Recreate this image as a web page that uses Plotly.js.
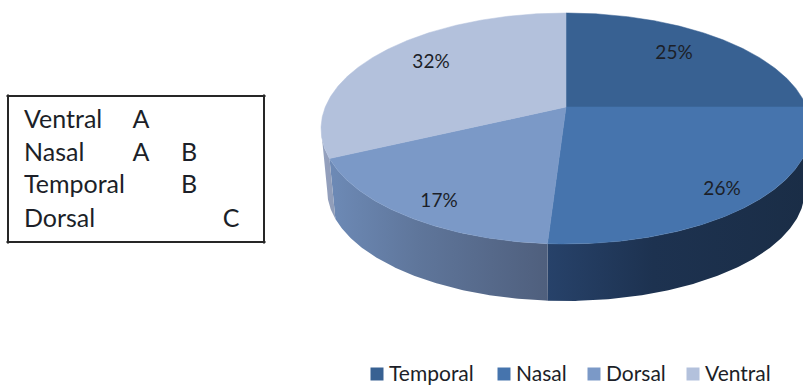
<!DOCTYPE html>
<html>
<head>
<meta charset="utf-8">
<script src="https://cdn.plot.ly/plotly-3.0.1.min.js"></script>
<style>html,body{margin:0;padding:0;background:#fff}#chart{width:803px;height:385px}</style>
</head>
<body>
<div id="chart"></div>
<script>
// Share of each region, clockwise from twelve o'clock
const regions = ["Temporal", "Nasal", "Dorsal", "Ventral"];
const shares = [25, 26, 17, 32];
const topColors = ["#386192", "#4674ad", "#7b99c7", "#b3c1dc"];
const wallLeft = ["#2a4a70", "#27426a", "#6d8ab6", "#97a5c0"];
const wallMid = ["#2a4a70", "#1d3250", "#5f769b", "#939fbc"];
const wallRight = ["#2a4a70", "#1a2d46", "#4f5f7d", "#8f9db8"];
const labelX = [674, 722, 439, 431];
const labelY = [54, 190, 202, 63];

// Post-hoc grouping table
const tableRows = ["Ventral", "Nasal", "Temporal", "Dorsal"];
const groupA = ["A", "A", "", ""];
const groupB = ["", "B", "B", ""];
const groupC = ["", "", "", "C"];
const tableRowY = [122, 155, 187, 221];

// Projection of the tilted disc onto the page
const cx = 566, cy = 107, halfW = 240.7, halfH = 111.5, tilt = 0.186;
const drop = 62.5, lowerX = 0.975, lowerY = 0.96;
const rad = d => d * Math.PI / 180;
function rim(deg, lower) {
  const u = Math.sin(rad(deg)), v = Math.cos(rad(deg));
  const s = 1 / (1 + tilt * v);
  const x = halfW * u * s, y = -halfH * v * s;
  return lower ? [cx + lowerX * x, cy + drop + lowerY * y] : [cx + x, cy + y];
}
function arc(from, to, lower) {
  const n = Math.max(2, Math.ceil(Math.abs(to - from) * 2));
  const pts = [];
  for (let i = 0; i <= n; i++) pts.push(rim(from + (to - from) * i / n, lower));
  return pts;
}

const traces = [];
const sideRight = 100.7, sideLeft = 259.3;
let acc = 0;
const spans = shares.map(s => {
  const a = acc * 3.6; acc += s; return [a, acc * 3.6];
});

// Side walls: only the front part of the rim is visible
spans.forEach((sp, i) => {
  const a = Math.max(sp[0], sideRight), b = Math.min(sp[1], sideLeft);
  if (b <= a) return;
  const pts = arc(a, b, false).concat(arc(b, a, true));
  const xs = pts.map(p => p[0]);
  traces.push({
    x: xs, y: pts.map(p => p[1]),
    mode: "lines", line: {width: 0}, fill: "toself", hoverinfo: "skip", showlegend: false,
    fillgradient: {
      type: "horizontal",
      start: Math.min.apply(null, xs), stop: Math.max.apply(null, xs),
      colorscale: [[0, wallLeft[i]], [0.4, wallMid[i]], [1, wallRight[i]]]
    }
  });
});

// Top faces
spans.forEach((sp, i) => {
  const pts = [[cx, cy]].concat(arc(sp[0], sp[1], false));
  pts.push([cx, cy]);
  traces.push({
    x: pts.map(p => p[0]), y: pts.map(p => p[1]),
    mode: "lines", line: {width: 0.5, color: topColors[i]}, fill: "toself",
    fillcolor: topColors[i], hoverinfo: "skip", showlegend: false
  });
});

const textFont = {family: "Lato, Carlito, sans-serif", color: "#1c1f28"};

// Percentage labels
traces.push({
  x: labelX, y: labelY, mode: "text",
  text: shares.map(s => s + "%"),
  textposition: "middle center",
  textfont: Object.assign({size: 19}, textFont),
  hoverinfo: "skip", showlegend: false
});

// Legend row
const legendMarkX = [377, 504, 594, 693];
const legendY = 374;
traces.push({
  x: legendMarkX, y: legendMarkX.map(() => legendY), mode: "markers",
  marker: {symbol: "square", size: 13, color: topColors},
  hoverinfo: "skip", showlegend: false
});
traces.push({
  x: legendMarkX.map(x => x + 12), y: legendMarkX.map(() => legendY + 1.5), mode: "text",
  text: regions, textposition: "middle right",
  textfont: Object.assign({size: 21}, textFont),
  hoverinfo: "skip", showlegend: false
});

// Grouping table text
function column(x, labels, pos) {
  traces.push({
    x: labels.map(() => x), y: tableRowY, mode: "text",
    text: labels, textposition: pos,
    textfont: Object.assign({size: 25}, textFont),
    hoverinfo: "skip", showlegend: false
  });
}
column(24, tableRows, "middle right");
column(141, groupA, "middle center");
column(189, groupB, "middle center");
column(231, groupC, "middle center");

// Table frame, with the edges running slightly past each corner
const frame = {left: 8, right: 264, top: 96, bottom: 242, over: 1.5};
const edge = (x0, y0, x1, y1) => ({type: "line", xref: "x", yref: "y", x0, y0, x1, y1,
  line: {color: "#262626", width: 2}});
const shapes = [
  edge(frame.left - frame.over, frame.top, frame.right + frame.over, frame.top),
  edge(frame.left - frame.over, frame.bottom, frame.right + frame.over, frame.bottom),
  edge(frame.left, frame.top - frame.over, frame.left, frame.bottom + frame.over),
  edge(frame.right, frame.top - frame.over, frame.right, frame.bottom + frame.over)
];

Plotly.newPlot("chart", traces, {
  width: 803, height: 385,
  margin: {l: 0, r: 0, t: 0, b: 0},
  paper_bgcolor: "#fff", plot_bgcolor: "#fff",
  xaxis: {range: [0, 803], visible: false, fixedrange: true},
  yaxis: {range: [385, 0], visible: false, fixedrange: true},
  shapes: shapes, showlegend: false
}, {displayModeBar: false, staticPlot: true});
</script>
</body>
</html>
